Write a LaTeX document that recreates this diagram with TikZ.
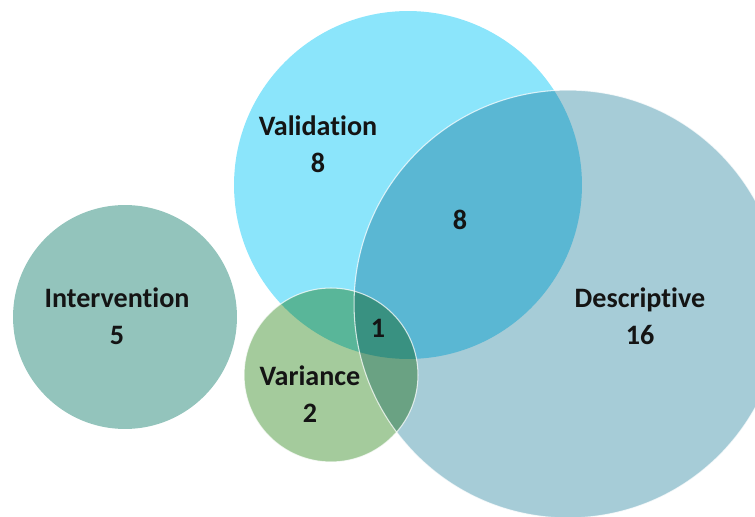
\documentclass[tikz,border=0pt]{standalone}
\usepackage{fontspec}
\setmainfont{Carlito}[Ligatures=NoCommon]
\usepackage{tikz}
\usetikzlibrary{positioning}

\definecolor{valcol}{HTML}{8BE5FB}
\definecolor{descol}{HTML}{A6CCD7}
\definecolor{intcol}{HTML}{93C4BC}
\definecolor{varcol}{HTML}{A4CB9C}

\begin{document}
\begin{tikzpicture}[x=0.02cm,y=-0.02cm,
                    font=\fontsize{16}{18}\selectfont\bfseries,
                    text=black!92]
  \tikzstyle{set}=[circle,draw=none,inner sep=0pt]
  \tikzstyle{rim}=[circle,draw=white,line width=0.6pt,draw opacity=0.75,inner sep=0pt]
  \tikzstyle{lab}=[align=center,inner sep=0pt]

  \useasboundingbox (0,0) rectangle (755,517);
  \clip (0,0) rectangle (755,517);

  \begin{scope}[blend group=multiply]
  \node[set,fill=valcol,minimum size=6.96cm] (val) at (408,185) {};
  \node[set,fill=descol,minimum size=8.56cm] (des) at (568,304) {};
  \node[set,fill=intcol,minimum size=4.48cm] (int) at (125,317) {};
  \node[set,fill=varcol,minimum size=3.48cm] (var) at (331,375) {};
  \end{scope}

  \node[rim,minimum size=8.56cm] at (des) {};
  \node[rim,minimum size=3.48cm] at (var) {};

  \node[lab] (valtxt) at (318,144)   {Validation\\[3pt]8};
  \node[lab] (vdtxt)  at (460,220)   {8};
  \node[lab] (inttxt) at (117,316)   {Intervention\\[3pt]5};
  \node[lab] (destxt) at (640,316)   {Descriptive\\[3pt]16};
  \node[lab] (alltxt) at (378,328)   {1};
  \node[lab] (vartxt) at (310,394)   {Variance\\[3pt]2};

\end{tikzpicture}
\end{document}
